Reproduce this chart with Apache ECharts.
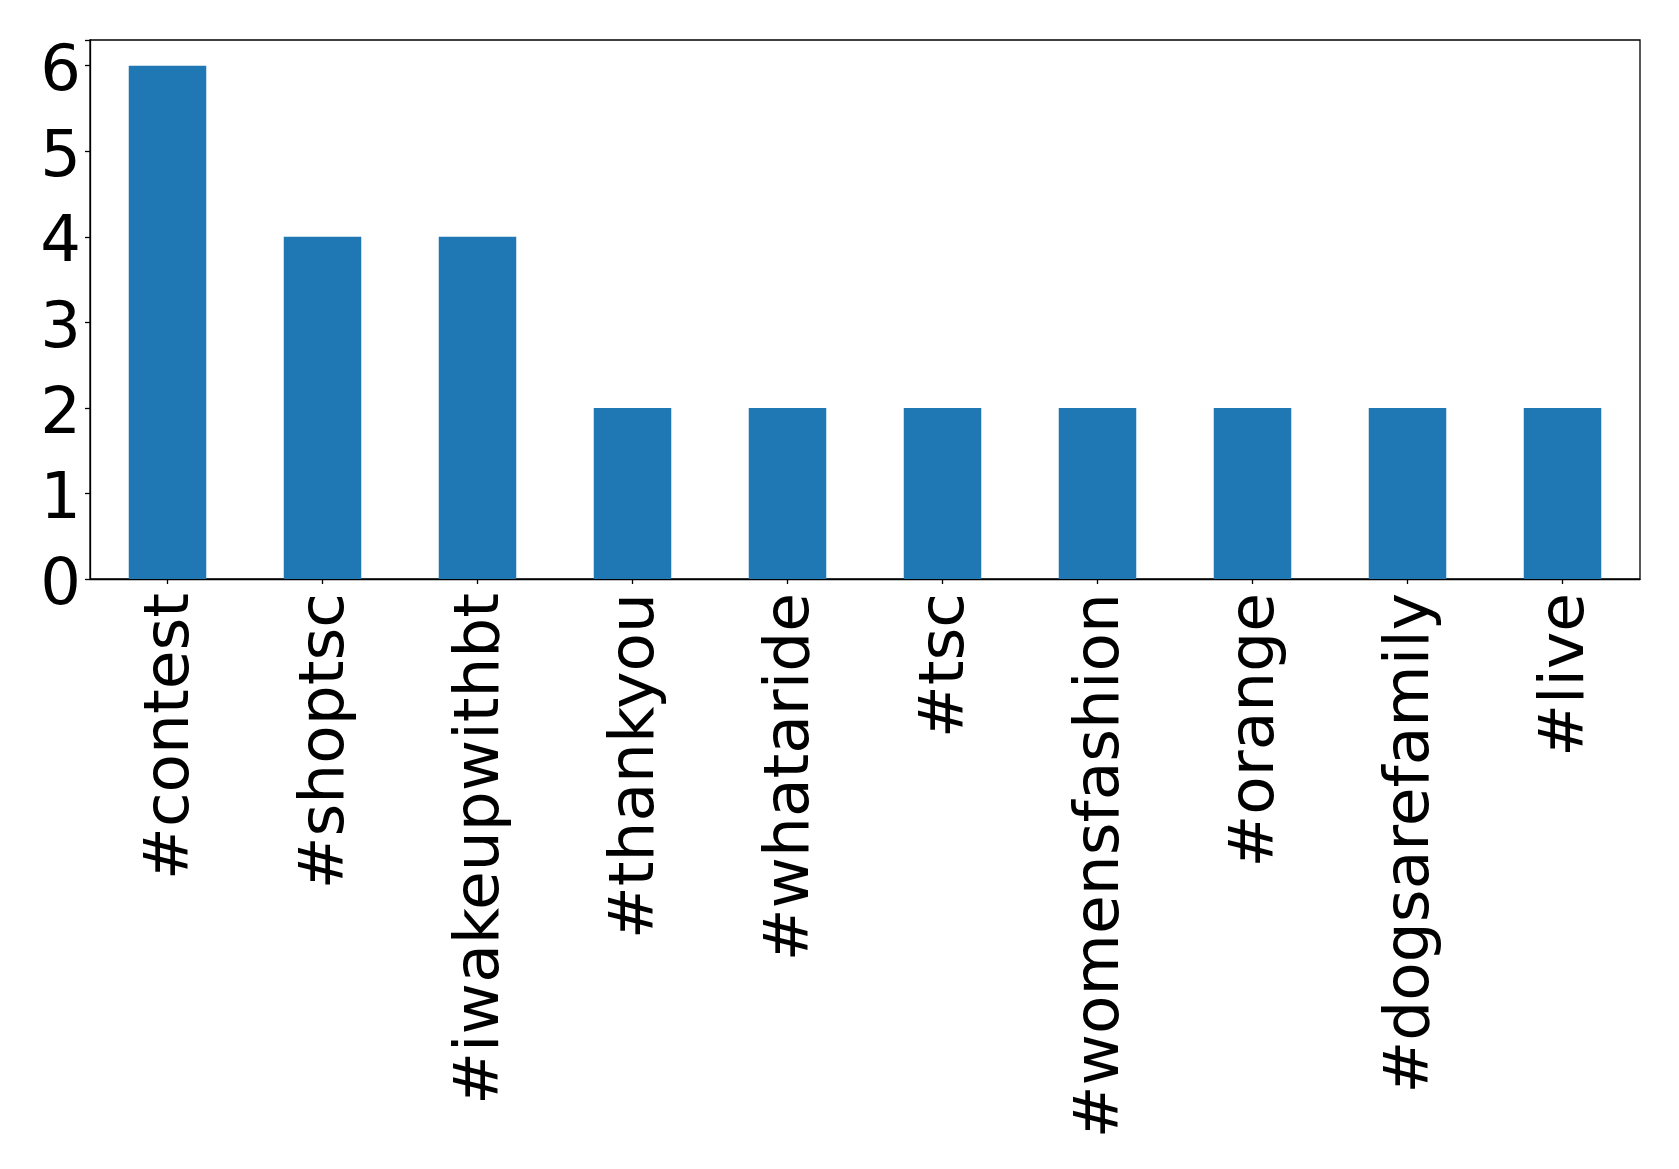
<!DOCTYPE html>
<html>
<head>
<meta charset="utf-8">
<script src="https://cdn.jsdelivr.net/npm/echarts@6/dist/echarts.min.js"></script>
<style>html,body{margin:0;padding:0;background:#fff}#c{width:1679px;height:1169px}</style>
</head>
<body>
<div id="c"></div>
<script>
const categories = ['#contest','#shoptsc','#iwakeupwithbt','#thankyou','#whataride','#tsc','#womensfashion','#orange','#dogsarefamily','#live'];
const counts = [6,4,4,2,2,2,2,2,2,2];
const yTicks = [0,1,2,3,4,5,6];

const chart = echarts.init(document.getElementById('c'), null, {renderer:'canvas'});
const font = 'DejaVu Sans';
chart.setOption({
  animation:false,
  grid:{left:90,right:39,top:40,bottom:590,show:true,borderColor:'#000',borderWidth:1.3,backgroundColor:'transparent'},
  xAxis:{
    type:'category',data:categories,
    axisLine:{show:true,lineStyle:{color:'#000',width:1.3}},
    axisTick:{show:true,alignWithLabel:true,length:5,lineStyle:{color:'#000',width:1.3}},
    axisLabel:{rotate:90,margin:14,fontFamily:font,fontSize:63,color:'#000',interval:0,
      formatter:function(v){return '{t|'+v+'}';},
      rich:{t:{fontFamily:font,fontSize:63,color:'#000',padding:[8,0,0,0]}}}
  },
  yAxis:{
    type:'value',min:0,max:6.3,interval:1,
    splitLine:{show:false},
    axisLine:{show:true,lineStyle:{color:'#000',width:1.3}},
    axisTick:{show:true,length:5,lineStyle:{color:'#000',width:1.3}},
    axisLabel:{margin:9,fontFamily:font,fontSize:64,color:'#000',
      formatter:function(v){return yTicks.indexOf(v)>=0?'{t|'+v+'}':'';},
      rich:{t:{fontFamily:font,fontSize:64,color:'#000',padding:[16,0,0,0]}}}
  },
  series:[{type:'bar',data:counts,barWidth:'50%',itemStyle:{color:'#1f77b4'}}]
});
</script>
</body>
</html>
